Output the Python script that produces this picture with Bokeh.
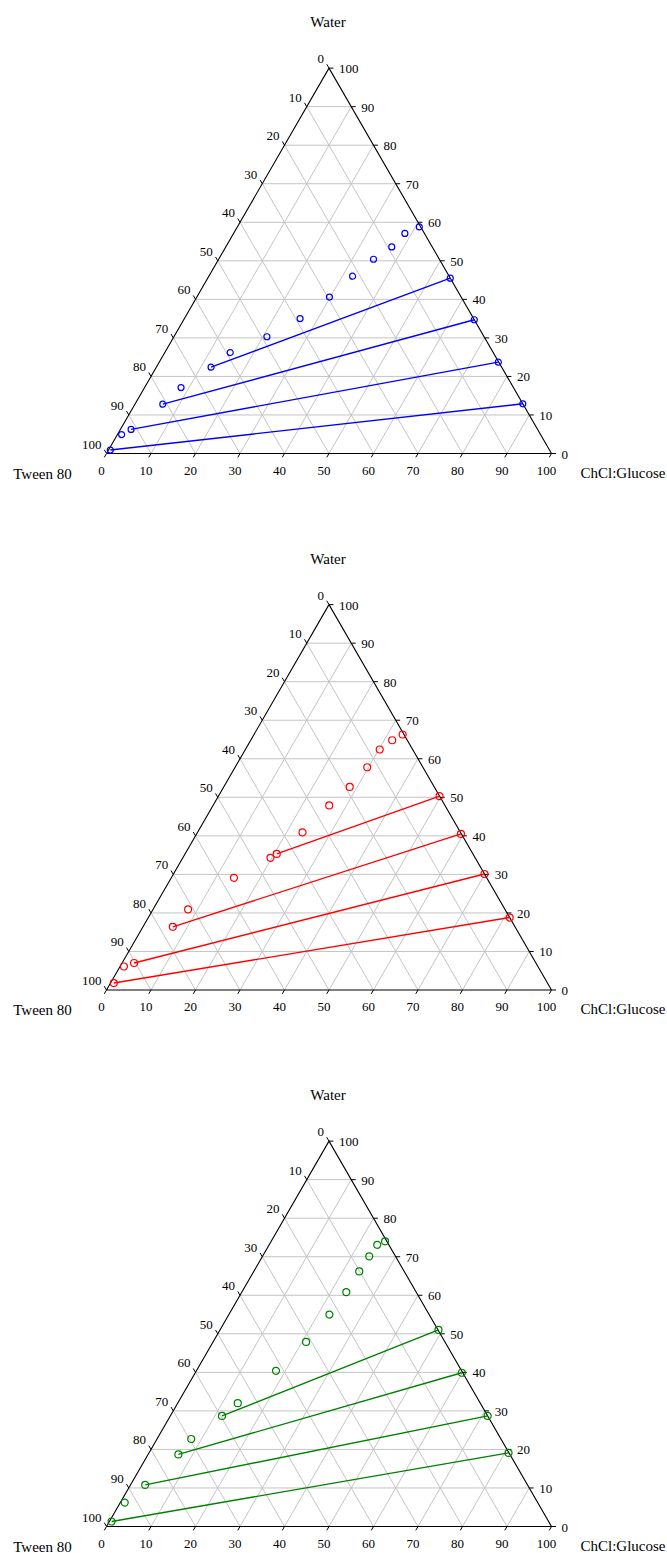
import numpy as np
from bokeh.plotting import figure
from bokeh.models import Range1d
from bokeh.embed import file_html
from bokeh.resources import INLINE
from bokeh.core.properties import value

# ---------------- data (ternary percentages: c = ChCl:Glucose, w = Water) ----------------
title_top = "Water"
title_left = "Tween 80"
title_right = "ChCl:Glucose"
tick_values = [0, 10, 20, 30, 40, 50, 60, 70, 80, 90, 100]

blue_binodal_c = [0.4, 0.95, 2.4, 6.25, 8.2, 12.3, 14.7, 20.9, 26.0, 29.8, 32.3, 34.8, 37.3, 38.5, 40.9]
blue_binodal_w = [0.9, 4.9, 6.25, 12.8, 17.1, 22.4, 26.2, 30.3, 35.0, 40.6, 46.0, 50.4, 53.6, 57.1, 58.8]
blue_tie_left_c = [12.3, 6.25, 2.4, 0.4]
blue_tie_left_w = [22.4, 12.8, 6.25, 0.9]
blue_tie_right_c = [54.5, 65.3, 76.2, 87.1]
blue_tie_right_w = [45.5, 34.7, 23.7, 12.9]

red_binodal_c = [0.74, 0.87, 2.7, 6.7, 7.9, 14.1, 19.7, 20.6, 23.6, 26.1, 28.3, 29.7, 30.2, 31.8, 33.4]
red_binodal_w = [1.8, 6.1, 7.0, 16.4, 20.9, 29.1, 34.3, 35.3, 40.9, 47.9, 52.7, 57.8, 62.4, 64.8, 66.3]
red_tie_left_c = [20.6, 6.7, 2.7, 0.74]
red_tie_left_w = [35.3, 16.4, 7.0, 1.8]
red_tie_right_c = [49.7, 59.4, 69.9, 81.2]
red_tie_right_w = [50.3, 40.5, 30.1, 18.8]

green_binodal_c = [0.5, 1.0, 3.3, 6.8, 7.7, 11.6, 13.5, 17.9, 20.9, 22.6, 23.5, 23.7, 24.0, 24.3, 25.6]
green_binodal_w = [1.3, 6.2, 10.8, 18.7, 22.7, 28.7, 32.0, 40.4, 47.9, 55.0, 60.8, 66.2, 70.1, 73.1, 74.0]
green_tie_left_c = [11.6, 6.8, 3.3, 0.5]
green_tie_left_w = [28.7, 18.7, 10.8, 1.3]
green_tie_right_c = [49.1, 59.9, 71.3, 80.8]
green_tie_right_w = [51.0, 39.9, 28.7, 19.1]

panels = [
    ("#0000ff", 6, blue_binodal_c, blue_binodal_w, blue_tie_left_c, blue_tie_left_w, blue_tie_right_c, blue_tie_right_w),
    ("#ff0000", 7, red_binodal_c, red_binodal_w, red_tie_left_c, red_tie_left_w, red_tie_right_c, red_tie_right_w),
    ("#008000", 7, green_binodal_c, green_binodal_w, green_tie_left_c, green_tie_left_w, green_tie_right_c, green_tie_right_w),
]

# ---------------- layout ----------------
W, H = 667, 1553
S = 4.45              # pixels per ternary unit
X0_PAGE = 106         # x of the Tween 80 vertex
BASE_PAGE = 453       # y of first panel's base
PANEL_STEP = 536.5 / S
R3 = np.sqrt(3) / 2

p = figure(width=W, height=H, output_backend="svg", toolbar_location=None,
           x_axis_location=None, y_axis_location=None, min_border=0,
           x_range=Range1d((0 - X0_PAGE) / S, (W - X0_PAGE) / S),
           y_range=Range1d((BASE_PAGE - H) / S, (BASE_PAGE - 0) / S))
p.grid.visible = False
p.outline_line_color = None
p.background_fill_color = "white"
p.border_fill_color = "white"

FONT = value("Liberation Serif")


def to_xy(c, w, k):
    c = np.asarray(c, dtype=float)
    w = np.asarray(w, dtype=float)
    return c + w / 2, w * R3 - k * PANEL_STEP


for k, (col, msize, bc, bw, tlc, tlw, trc, trw) in enumerate(panels):
    inner = [v for v in tick_values if 0 < v < 100]
    gx, gy = [], []
    for v in inner:
        a = to_xy([0, 100 - v], [v, v], k)          # water constant
        gx.append(list(a[0])); gy.append(list(a[1]))
        a = to_xy([v, v], [0, 100 - v], k)          # chcl constant
        gx.append(list(a[0])); gy.append(list(a[1]))
        a = to_xy([100 - v, 0], [0, 100 - v], k)    # tween constant
        gx.append(list(a[0])); gy.append(list(a[1]))
    p.multi_line(gx, gy, line_color="#c4c4c4", line_width=1)

    tx, ty = to_xy([0, 100, 0, 0], [0, 0, 100, 0], k)
    p.line(tx, ty, line_color="black", line_width=1.1)

    tv = np.array(tick_values, dtype=float)
    labels = [str(v) for v in tick_values]
    L = 1.0
    rx, ry = to_xy(100 - tv, tv, k)
    p.segment(rx, ry, rx + L, ry, line_color="black", line_width=1)
    p.text(rx, ry, text=labels, x_offset=10, y_offset=1,
           text_align="left", text_baseline="middle", text_font=FONT,
           text_font_size="13px", text_color="black")
    bx, by = to_xy(tv, 0 * tv, k)
    p.segment(bx, by, bx - 0.5 * L, by - R3 * L, line_color="black", line_width=1)
    p.text(bx, by, text=labels, x_offset=-5, y_offset=17,
           text_align="center", text_baseline="middle", text_font=FONT,
           text_font_size="13px", text_color="black")
    lx, ly = to_xy(0 * tv, 100 - tv, k)
    p.segment(lx, ly, lx - 0.5 * L, ly + R3 * L, line_color="black", line_width=1)
    p.text(lx, ly, text=labels, x_offset=-5, y_offset=-9,
           text_align="right", text_baseline="middle", text_font=FONT,
           text_font_size="13px", text_color="black")

    ax_, ay_ = to_xy([0], [100], k)
    p.text(ax_, ay_, text=[title_top], x_offset=-1, y_offset=-46, text_align="center",
           text_baseline="middle", text_font=FONT, text_font_size="15px", text_color="black")
    lx0, ly0 = to_xy([0], [0], k)
    p.text(lx0, ly0, text=[title_left], x_offset=-64, y_offset=20, text_align="center",
           text_baseline="middle", text_font=FONT, text_font_size="15px", text_color="black")
    rx0, ry0 = to_xy([100], [0], k)
    p.text(rx0, ry0, text=[title_right], x_offset=114, y_offset=19, text_align="right",
           text_baseline="middle", text_font=FONT, text_font_size="15px", text_color="black")

    lxs, lys = to_xy(tlc, tlw, k)
    rxs, rys = to_xy(trc, trw, k)
    p.segment(lxs, lys, rxs, rys, line_color=col, line_width=1.4)

    px, py = to_xy(bc, bw, k)
    p.scatter(px, py, marker="circle", size=msize, fill_color=None, line_color=col, line_width=1.2)
    p.scatter(rxs, rys, marker="circle", size=msize, fill_color=None, line_color=col, line_width=1.2)

open("out.html", "w").write(file_html(p, INLINE))
